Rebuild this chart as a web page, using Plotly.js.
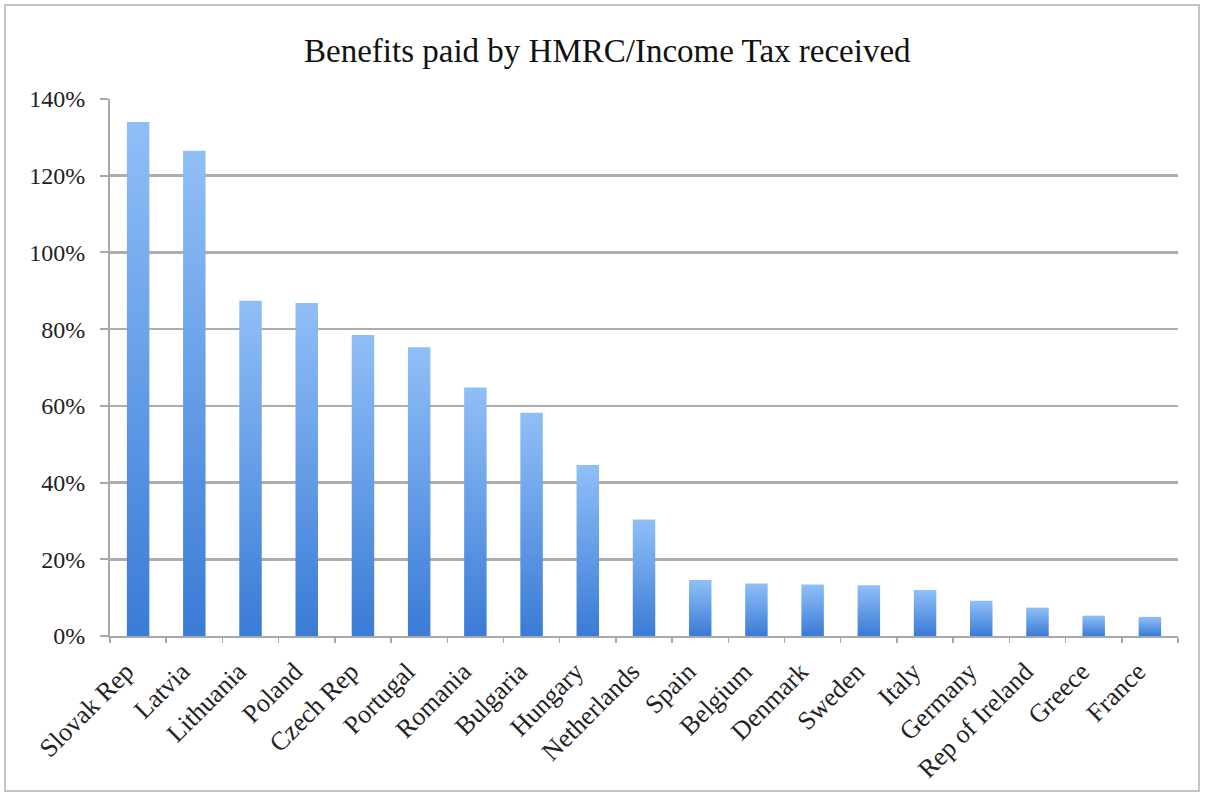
<!DOCTYPE html>
<html>
<head>
<meta charset="utf-8">
<script src="https://cdn.plot.ly/plotly-3.0.1.min.js"></script>
<style>
  html, body { margin: 0; padding: 0; background: #ffffff; }
  #wrap { position: relative; width: 1205px; height: 799px; overflow: hidden; }
  #chart { position: absolute; left: 0; top: 0; width: 1205px; height: 799px; }
  #frame { position: absolute; left: 4px; top: 4px; width: 1196px; height: 788px;
           border: 2px solid #c4c4c4; pointer-events: none; box-sizing: border-box; }
</style>
</head>
<body>
<div id="wrap">
  <div id="chart"></div>
  <div id="frame"></div>
</div>
<script>
const chartTitle = "Benefits paid by HMRC/Income Tax received";
const countries = ["Slovak Rep", "Latvia", "Lithuania", "Poland", "Czech Rep", "Portugal",
  "Romania", "Bulgaria", "Hungary", "Netherlands", "Spain", "Belgium", "Denmark", "Sweden",
  "Italy", "Germany", "Rep of Ireland", "Greece", "France"];
const ratioPct = [134, 126.5, 87.4, 86.8, 78.5, 75.3, 64.8, 58.2, 44.6, 30.4, 14.6, 13.7,
  13.4, 13.2, 12.0, 9.2, 7.4, 5.3, 5.0];
const yTicks = [0, 20, 40, 60, 80, 100, 120, 140];
const yTickLabels = ["0%", "20%", "40%", "60%", "80%", "100%", "120%", "140%"];

const serif = "'Liberation Serif', 'Times New Roman', serif";

const trace = {
  type: "bar",
  x: countries,
  y: ratioPct,
  marker: { color: "#5f98e6", line: { width: 0 } },
  hoverinfo: "x+y"
};

const layout = {
  width: 1205,
  height: 799,
  paper_bgcolor: "#ffffff",
  plot_bgcolor: "#ffffff",
  margin: { l: 110, r: 27, t: 99, b: 163 },
  bargap: 0.6,
  showlegend: false,
  title: {
    text: chartTitle,
    font: { family: serif, size: 33, color: "#111111" },
    xref: "container", yref: "container",
    x: 0.504, y: 0.937, xanchor: "center", yanchor: "middle"
  },
  xaxis: {
    type: "category",
    tickangle: -45,
    tickfont: { family: serif, size: 26, color: "#222222" },
    ticklabelstandoff: 8,
    ticklabelshift: -12,
    showline: true, linecolor: "#a8a8a8", linewidth: 2,
    ticks: "outside", tickson: "boundaries", ticklen: 5, tickcolor: "#a8a8a8", tickwidth: 1.5,
    showgrid: false, zeroline: false
  },
  yaxis: {
    range: [0, 140],
    tickmode: "array",
    tickvals: yTicks,
    ticktext: yTickLabels,
    tickfont: { family: serif, size: 24, color: "#222222" },
    ticklabelstandoff: 10,
    showline: true, linecolor: "#a8a8a8", linewidth: 2,
    ticks: "outside", ticklen: 8, tickcolor: "#a8a8a8", tickwidth: 2,
    showgrid: true, gridcolor: "#adadad", gridwidth: 2.5,
    zeroline: false
  }
};

Plotly.newPlot("chart", [trace], layout, { displayModeBar: false, staticPlot: true }).then(function (gd) {
  const svg = gd.querySelector("svg.main-svg");
  const ns = "http://www.w3.org/2000/svg";
  let defs = svg.querySelector("defs");
  if (!defs) { defs = document.createElementNS(ns, "defs"); svg.insertBefore(defs, svg.firstChild); }
  const grad = document.createElementNS(ns, "linearGradient");
  grad.setAttribute("id", "barGrad");
  grad.setAttribute("x1", "0"); grad.setAttribute("y1", "0");
  grad.setAttribute("x2", "0"); grad.setAttribute("y2", "1");
  [["0", "#90bff7"], ["1", "#3a7bd6"]].forEach(function (s) {
    const st = document.createElementNS(ns, "stop");
    st.setAttribute("offset", s[0]);
    st.setAttribute("stop-color", s[1]);
    grad.appendChild(st);
  });
  defs.appendChild(grad);
  gd.querySelectorAll(".bars .point path").forEach(function (p) {
    p.style.fill = "url(#barGrad)";
  });
});
</script>
</body>
</html>
